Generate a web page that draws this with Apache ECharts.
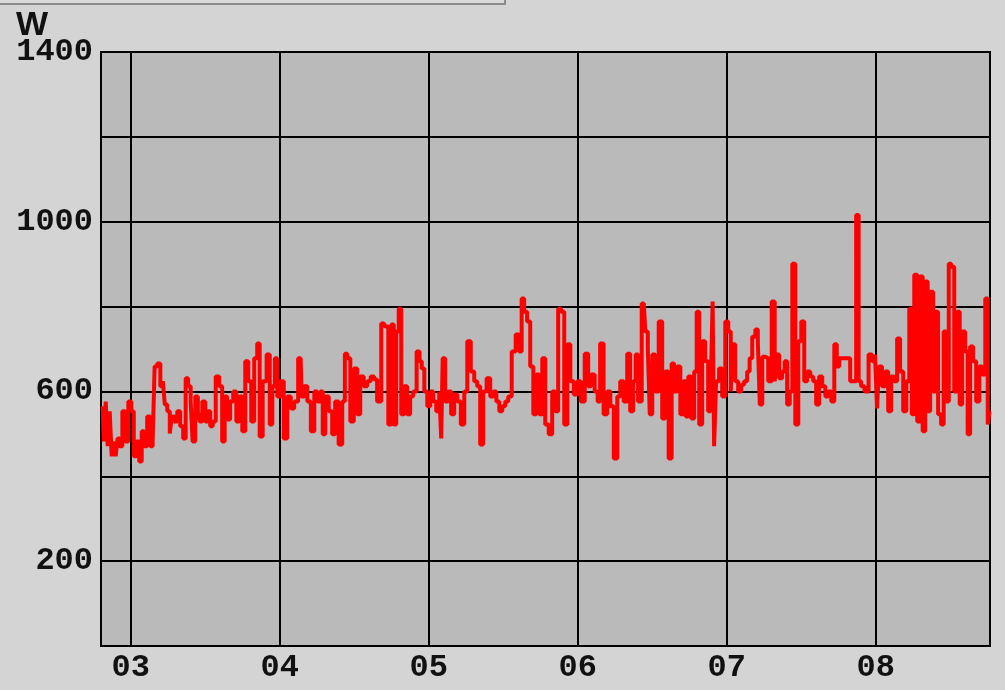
<!DOCTYPE html>
<html>
<head>
<meta charset="utf-8">
<script src="https://cdn.jsdelivr.net/npm/echarts@6/dist/echarts.min.js"></script>
<style>
html,body{margin:0;padding:0;background:#d4d4d4;}
#chart{width:1005px;height:690px;}
</style>
</head>
<body>
<div id="chart"></div>
<script>
// time in minutes after midnight
var times = [168.7,169.5,170.3,171.1,171.9,172.7,173.5,174.3,175.1,176.0,177.2,178.4,179.6,180.8,181.6,182.8,184.0,184.8,186.0,187.2,188.4,189.2,190.0,191.3,192.5,193.3,194.1,195.3,196.1,196.9,198.1,199.3,200.5,201.7,202.5,203.7,204.5,205.3,206.6,207.4,208.2,209.4,210.6,211.4,212.6,213.4,215.0,216.2,217.4,218.2,219.4,220.6,221.9,223.1,224.3,225.5,226.7,227.9,
229.1,230.3,231.5,232.3,233.9,235.5,236.4,237.6,238.4,239.6,240.8,242.4,243.6,245.2,246.4,248.4,249.2,250.5,251.7,253.3,254.5,255.7,256.9,257.7,258.9,260.5,261.7,262.9,264.5,265.8,266.6,267.8,269.0,270.6,271.8,273.0,274.6,275.8,277.4,278.6,279.8,281.9,283.1,284.3,285.5,286.3,287.5,288.3,289.5,290.7,291.9,293.1,294.3,295.9,296.7,297.6,298.8,300.0,301.2,302.4,303.6,304.8,305.2,306.0,307.2,308.4,309.6,310.9,312.1,313.7,314.9,316.1,317.7,318.9,320.1,321.3,322.5,324.1,325.4,326.6,327.8,329.0,330.2,331.4,332.6,334.2,335.8,337.0,337.8,339.0,340.2,341.5,342.7,343.9,345.1,346.3,347.5,349.1,350.3,351.5,352.7,353.9,355.2,356.4,357.6,359.2,360.4,362.0,363.6,364.8,366.0,367.6,368.4,369.6,371.2,372.5,373.7,375.3,376.5,377.7,379.3,380.5,381.7,382.9,383.7,384.9,386.6,387.8,388.6,389.4,390.6,391.8,393.4,394.6,395.8,397.4,398.2,399.4,400.7,401.9,403.1,403.9,405.1,406.3,407.5,408.3,409.5,410.7,411.9,413.1,413.9,414.7,415.1,416.3,417.5,418.8,420.0,421.2,422.0,422.8,424.0,425.2,426.4,427.6,428.8,429.6,430.9,432.1,432.9,433.7,434.9,436.1,437.3,438.9,439.7,440.5,441.7,442.9,443.7,444.9,445.8,447.0,448.2,449.4,450.6,451.8,453.0,454.2,455.4,456.6,457.8,459.1,460.3,461.5,462.7,463.9,464.7,465.9,467.5,469.1,470.3,471.5,472.7,473.5,474.7,476.3,477.9,479.1,480.3,480.7,481.9,483.1,484.4,485.6,486.8,488.0,489.2,490.4,491.7,492.9,494.1,494.9,496.1,497.3,498.5,499.3,500.5,501.3,502.5,503.7,504.5,505.7,506.9,507.8,509.0,509.8,511.0,512.2,513.4,514.2,515.4,516.6,517.4,518.6,519.8,521.1,522.3,523.5,524.7,525.5,526.1];
// power in W
var watts = [565,482,576,471,553,447,482,447,489,471,553,482,576,553,447,482,435,506,471,541,471,482,659,666,612,624,569,553,501,541,529,553,518,489,631,612,576,482,588,553,529,576,529,553,518,529,635,612,482,588,534,576,600,529,588,506,671,624,
529,678,713,494,624,687,522,612,678,588,624,489,588,560,576,678,588,612,576,506,600,576,600,499,588,553,499,576,475,576,689,678,529,654,546,635,612,624,635,628,576,760,753,522,758,522,741,795,546,612,546,588,600,694,671,654,600,565,600,576,553,600,489,678,576,600,546,593,576,522,600,718,647,624,612,475,600,631,588,600,576,553,565,576,588,694,734,694,819,788,765,659,546,640,546,678,522,499,600,553,795,788,522,711,624,593,624,576,689,612,640,600,576,713,546,600,565,442,588,624,576,689,553,624,687,576,807,741,701,546,687,600,765,536,647,442,666,600,659,546,624,541,635,536,647,788,522,718,671,553,600,812,471,624,654,588,765,741,600,711,624,600,616,624,647,678,729,746,718,569,682,678,624,812,624,687,631,647,671,569,600,901,522,718,765,624,647,635,624,569,635,612,588,600,576,711,659,678,678,678,624,624,1016,624,612,600,687,671,687,560,659,612,647,553,635,624,725,647,553,624,795,546,875,529,871,506,859,553,835,600,788,546,522,741,576,901,894,600,788,569,741,694,499,706,671,576,659,640,819,522,553];
var hourTicks = [180,240,300,360,420,480];
var hourLabels = ['03','04','05','06','07','08'];
var yLabelValues = [200,600,1000,1400];

var data = times.map(function(t,i){return [t, watts[i]];});
var chart = echarts.init(document.getElementById('chart'), null, {renderer:'canvas'});
var labelFont = {fontFamily:'Liberation Mono', fontWeight:'bold', fontSize:32, color:'#111'};
chart.setOption({
  animation:false,
  backgroundColor:'#d4d4d4',
  grid:{left:101, right:15, top:52, bottom:44, show:true, backgroundColor:'#bababa', borderColor:'#000', borderWidth:2},
  graphic:[
    {type:'rect', shape:{x:-2,y:-10,width:507,height:14}, style:{fill:'#d8d8d8', stroke:'#8a8a8a', lineWidth:2}},
    {type:'text', left:16, top:9, style:{text:'W', font:'bold 34px "Liberation Sans"', fill:'#111'}}
  ],
  xAxis:{
    type:'value', min:168, max:526,
    axisLine:{show:false},
    axisTick:{show:false, customValues:hourTicks},
    splitLine:{show:true, lineStyle:{color:'#000', width:2}},
    axisLabel:Object.assign({customValues:hourTicks, margin:6, formatter:function(v){var i=hourTicks.indexOf(v);return i>=0?hourLabels[i]:'';}}, labelFont)
  },
  yAxis:{
    type:'value', min:0, max:1400, interval:200,
    axisLine:{show:false}, axisTick:{show:false},
    splitLine:{show:true, lineStyle:{color:'#000', width:2}},
    axisLabel:Object.assign({margin:8, showMaxLabel:true, formatter:function(v){return yLabelValues.indexOf(v)>=0?String(v):'';}}, labelFont)
  },
  series:[{
    type:'line', data:data, showSymbol:false, symbol:'none', step:'middle',
    lineStyle:{color:'#ff0000', width:4}, clip:true
  }]
});
</script>
</body>
</html>
